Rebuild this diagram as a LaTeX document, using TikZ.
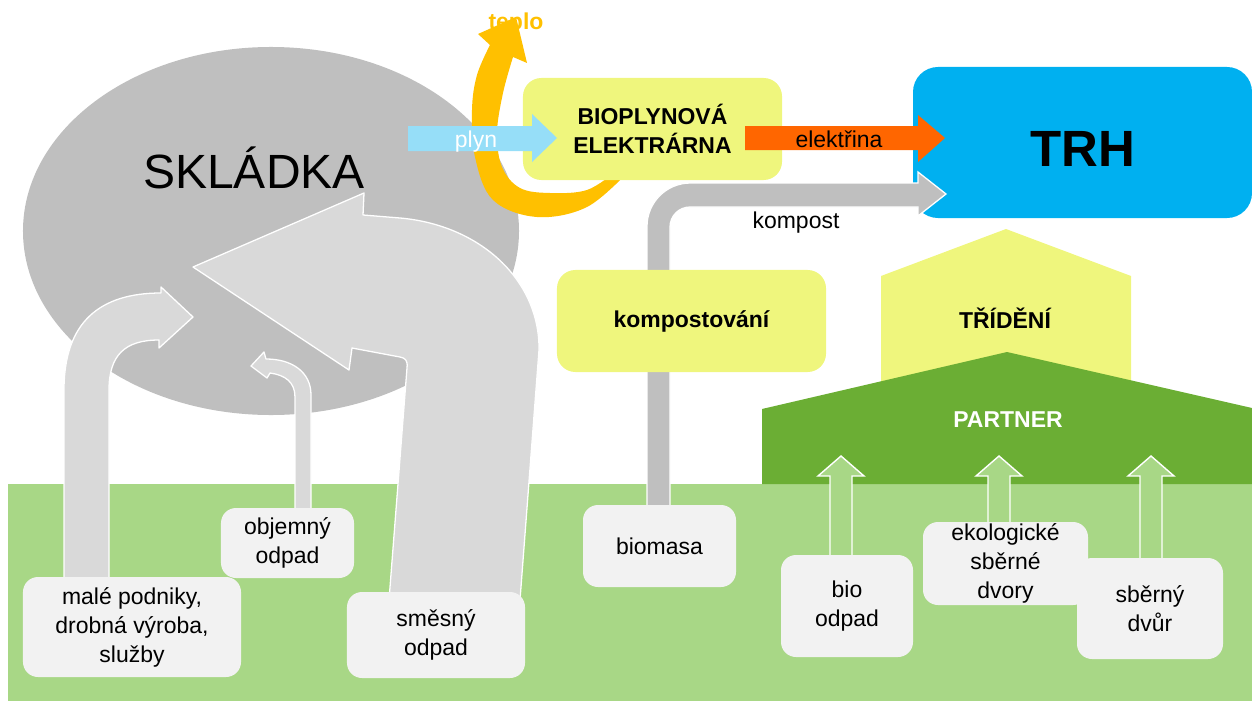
\documentclass[tikz,border=0pt]{standalone}
\usepackage{fontspec}
\setmainfont{Liberation Sans}

\definecolor{landfill}{RGB}{191,191,191}
\definecolor{flowgray}{RGB}{217,217,217}
\definecolor{lemon}{RGB}{239,246,125}
\definecolor{gasblue}{RGB}{150,222,248}
\definecolor{power}{RGB}{255,102,0}
\definecolor{heat}{RGB}{255,192,0}
\definecolor{market}{RGB}{0,176,240}
\definecolor{meadow}{RGB}{168,215,134}
\definecolor{partnergreen}{RGB}{107,174,52}
\definecolor{boxgray}{RGB}{242,242,242}

\tikzset{
  txt/.style={font=\fontsize{19.6pt}{24.8pt}\selectfont, align=center, inner sep=0pt},
  boldtxt/.style={txt, font=\fontsize{19.6pt}{24.8pt}\selectfont\bfseries},
  srcbox/.style={txt, fill=boxgray, rounded corners=0.45cm},
  yellowbox/.style={boldtxt, fill=lemon, rounded corners=0.55cm},
  blockflow/.style={fill=flowgray, draw=white, line width=1.1pt, line join=round},
  greenflow/.style={fill=meadow, draw=white, line width=1.2pt, line join=miter},
}

\begin{document}
\begin{tikzpicture}[x=0.03cm, y=-0.03cm]
\useasboundingbox (0,0) rectangle (1252,702);

% ground band
\fill[meadow] (8,484) rectangle (1252,701);

% sorting and partner roofs
\fill[lemon] (881,420) -- (881,276) -- (1006,229) -- (1131,276) -- (1131,420) -- cycle;
\fill[partnergreen] (762,484) -- (762,409) -- (1007,352) -- (1252,408) -- (1252,484) -- cycle;

% landfill
\fill[landfill] (271,231) ellipse [x radius=7.44cm, y radius=5.52cm];
\node[font=\fontsize{41pt}{48pt}\selectfont, anchor=base, inner sep=0pt] (skladka) at (254,188) {SKLÁDKA};

% mixed waste flow
\path[blockflow] (389,600) -- (407,368) .. controls (408,360) and (405,358) .. (400,357)
  -- (352,348) -- (349,370) -- (193,267) -- (364,193) -- (363,215) -- (400,218)
  .. controls (480,225) and (540,280) .. (539,350) -- (520,600) -- cycle;

% small businesses flow
\path[blockflow] (64,600) -- (64,390) .. controls (64,322) and (100,293) .. (161,293)
  -- (161,287) -- (193,317) -- (159,348) -- (159,340)
  .. controls (125,340) and (109,355) .. (109,390) -- (109,600) -- cycle;

% bulky waste flow
\path[blockflow] (311,515) -- (311,395) .. controls (311,372) and (292,359) .. (266,359)
  -- (264,352) -- (251,366) -- (267,378) -- (270,373)
  .. controls (285,375) and (295,382) .. (295,397) -- (295,515) -- cycle;

% heat
\fill[heat] plot[smooth, tension=0.6] coordinates {(628,172) (587,207) (537,217) (493,200) (475,157) (472,110) (477,75) (490,45)}
  -- (478,34) -- (516,17) -- (527,63)
  -- plot[smooth, tension=0.6] coordinates {(513,57) (503,93) (497,133) (502,167) (520,188) (550,193) (587,190) (615,172)} -- cycle;
\node[boldtxt, text=heat, anchor=base] (teplo) at (516,30) {teplo};

% biogas power plant
\node[yellowbox, minimum width=7.77cm, minimum height=3.06cm] (plant) at (652.5,129) {BIOPLYNOVÁ\\ELEKTRÁRNA};

% gas
\fill[gasblue] (408,126) -- (532,126) -- (532,114) -- (557,138) -- (532,162) -- (532,151) -- (408,151) -- cycle;
\node[txt, text=white, anchor=base] (plyn) at (476,147) {plyn};

% market
\node[fill=market, rounded corners=0.75cm, minimum width=10.17cm, minimum height=4.53cm, inner sep=0pt] (trh) at (1082.5,142.5) {};
\node[font=\fontsize{43.5pt}{50pt}\selectfont\bfseries, inner sep=0pt, anchor=base] (trhtext) at (1083,167) {TRH};

% compost
\path[fill=landfill, draw=white, line width=1.1pt] (647,510) [rounded corners=1.3cm] -- (647,183) -- (760,183) [sharp corners]
  -- (918,183) -- (918,172) -- (946,194) -- (918,216) -- (918,207) [rounded corners=0.6cm] -- (670,207) -- (670,300) [sharp corners] -- (670,510) -- cycle;
\node[txt, anchor=base] (kompost) at (796,228) {kompost};
\node[yellowbox, minimum width=8.07cm, minimum height=3.06cm] (kompostovani) at (691.5,321) {kompostování};

% electricity
\fill[power] (745,126) -- (918,126) -- (918,115) -- (945,138) -- (918,162) -- (918,150) -- (745,150) -- cycle;
\node[txt, anchor=base] (elektrina) at (839,147) {elektřina};

% labels of roofs
\node[boldtxt, anchor=base] (trideni) at (1005,328) {TŘÍDĚNÍ};
\node[boldtxt, text=white, anchor=base] (partner) at (1008,427) {PARTNER};

% upward flows into partner
\path[greenflow] (830,560) -- (830,476) -- (818,476) -- (841,456) -- (864,476) -- (852,476) -- (852,560) -- cycle;
\path[greenflow] (988,530) -- (988,476) -- (976,476) -- (999,456) -- (1022,476) -- (1010,476) -- (1010,530) -- cycle;
\path[greenflow] (1140,565) -- (1140,476) -- (1128,476) -- (1151,456) -- (1174,476) -- (1162,476) -- (1162,565) -- cycle;

% sources
\node[srcbox, minimum width=6.54cm, minimum height=3.0cm] (male) at (132,627) {malé podniky,\\drobná výroba,\\služby};
\node[srcbox, minimum width=3.99cm, minimum height=2.1cm] (objemny) at (287.5,543) {objemný\\odpad};
\node[srcbox, minimum width=5.34cm, minimum height=2.58cm] (smesny) at (436,635) {směsný\\odpad};
\node[srcbox, minimum width=4.59cm, minimum height=2.46cm] (biomasa) at (659.5,546) {biomasa};
\node[srcbox, minimum width=3.96cm, minimum height=3.06cm] (bioodpad) at (847,606) {bio\\odpad};
\node[srcbox, minimum width=4.95cm, minimum height=2.49cm] (ekodvory) at (1005.5,563.5) {ekologické\\sběrné\\dvory};
\node[srcbox, minimum width=4.38cm, minimum height=3.03cm] (sbernydvur) at (1150,608.5) {sběrný\\dvůr};
\end{tikzpicture}
\end{document}
